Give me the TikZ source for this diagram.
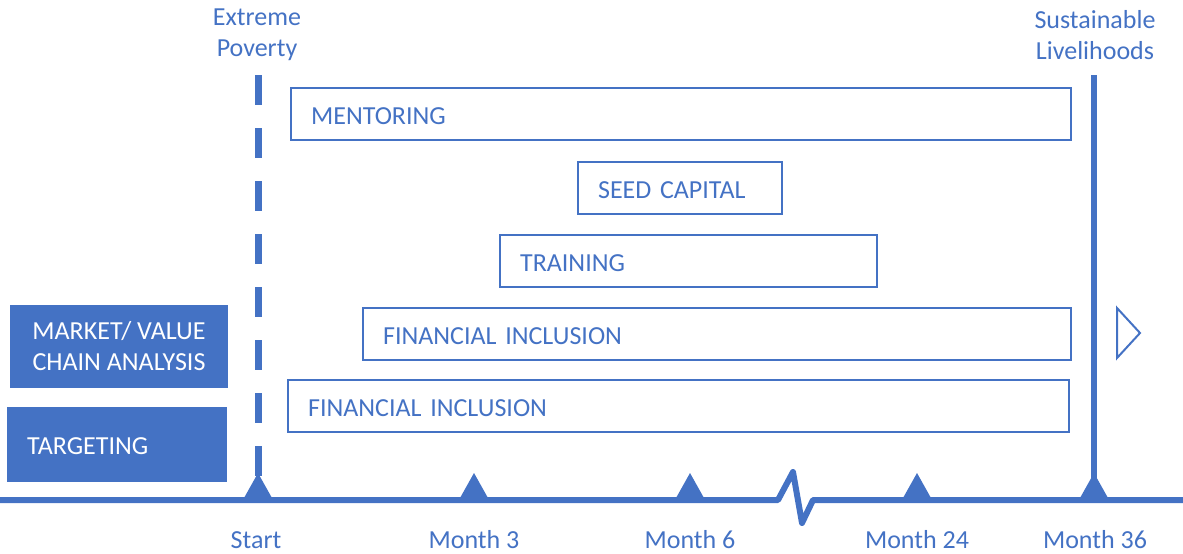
\documentclass[tikz,border=0pt]{standalone}
\usepackage{fontspec}
\setmainfont{Carlito}
\definecolor{office}{HTML}{4472C4}
\begin{document}
\begin{tikzpicture}[x=1pt,y=-1pt,
  every node/.style={font=\fontsize{26}{31}\selectfont, text=office},
  outbox/.style={draw=office, line width=2.2pt, rectangle, minimum height=52pt,
    inner xsep=20pt, inner ysep=0pt, align=left, anchor=west,
    text height=21pt, text depth=1pt},
  fillbox/.style={fill=office, rectangle, text=white, inner sep=0pt, align=center},
  axislbl/.style={anchor=center},
  tick/.style={fill=office},
  axis/.style={draw=office, line width=6pt},
]
\useasboundingbox (0,0) rectangle (1183,554);

% activity bars
\node[outbox, text width=740pt] (mentor) at (290,114) {MENTORING};
\node[outbox, text width=164pt] (seed)   at (577,188) {SEED CAPITAL};
\node[outbox, text width=337pt] (train)  at (499,261) {TRAINING};
\node[outbox, text width=668pt] (fin1)   at (362,334) {FINANCIAL INCLUSION};
\node[outbox, text width=741pt] (fin2)   at (287,406) {FINANCIAL INCLUSION};

% preparatory steps
\node[fillbox, minimum width=218pt, minimum height=83pt] (market) at (119,346.5)
  {MARKET/ VALUE\\CHAIN ANALYSIS};
\node[fillbox, minimum width=220pt, minimum height=75pt] (target) at (117,444.5) {};
\node[text=white, anchor=west, inner sep=0pt] (targettxt) at (27,446) {TARGETING};

% end-state labels
\node[align=center] (poverty) at (257,35) {Extreme\\Poverty};
\node[align=center] (liveli) at (1095,35) {Sustainable\\Livelihoods};

% milestone positions on the axis
\coordinate (a0) at (0,500);
\coordinate (aend) at (1183,500);
\coordinate (t0) at (258,500);
\coordinate (t3) at (474,500);
\coordinate (t6) at (690,500);
\coordinate (t24) at (917,500);
\coordinate (t36) at (1094,500);
\coordinate (b1) at (778,500);
\coordinate (b2) at (813,500);

% axis with break
\draw[axis, line join=round] (a0) -- (b1) -- (793,472) -- (802,523) -- (b2) -- (aend);

% milestone markers
\foreach \t in {t0,t3,t6,t24,t36}
  \fill[tick] ([xshift=-14pt,yshift=2pt]\t) -- ([yshift=27pt]\t) -- ([xshift=14pt,yshift=2pt]\t) -- cycle;

% start and finish lines
\coordinate (startTop) at (258,75);
\coordinate (endTop) at (1094,75);
\draw[office, line width=7pt, dash pattern=on 30pt off 23pt] (startTop) -- (t0);
\draw[office, line width=6pt] (endTop) -- (t36);

% axis labels
\node[axislbl] (lstart) at (256,540) {Start};
\node[axislbl] (lm3) at (474,540) {Month 3};
\node[axislbl] (lm6) at (690,540) {Month 6};
\node[axislbl] (lm24) at (917,540) {Month 24};
\node[axislbl] (lm36) at (1095,540) {Month 36};

% continuation marker
\draw[office, line width=2pt, line join=miter] (1117,308) -- (1140,333) -- (1117,358) -- cycle;
\end{tikzpicture}
\end{document}
